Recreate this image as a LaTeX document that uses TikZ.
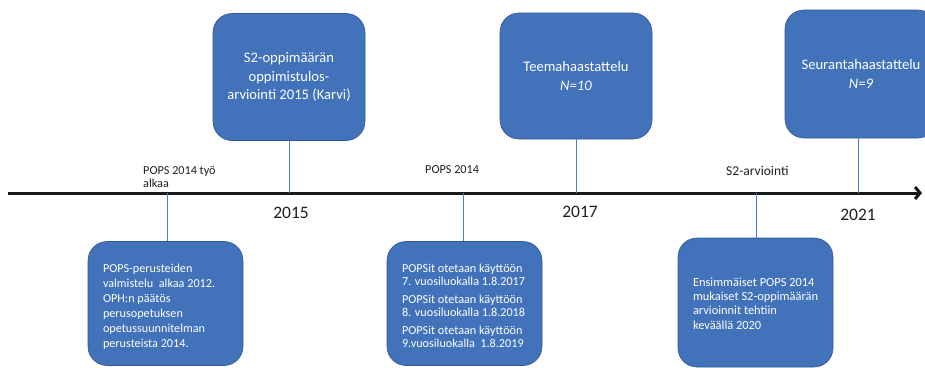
\documentclass[tikz,border=0pt]{standalone}
\usepackage{fontspec}
\setmainfont{Carlito}
\usetikzlibrary{arrows.meta}
\definecolor{boxfill}{RGB}{66,114,186}
\definecolor{boxedge}{RGB}{50,86,148}
\definecolor{linkblue}{RGB}{80,124,200}
\definecolor{labelgray}{RGB}{30,30,30}
\begin{document}
\begin{tikzpicture}[x=1pt,y=-1pt,
  event/.style={draw=boxedge,line width=0.6pt,fill=boxfill,rounded corners=19pt,
    text=white,inner sep=0pt},
  topbox/.style={event,minimum width=152pt,minimum height=127pt,align=center,
    font=\fontsize{14.6}{18.5}\selectfont},
  lowbox/.style={event,minimum width=155pt,align=left},
  link/.style={draw=linkblue,line width=0.8pt},
  note/.style={text=labelgray,font=\fontsize{12.2}{13.5}\selectfont,align=left,inner sep=0pt},
  year/.style={text=labelgray,font=\fontsize{17.5}{19}\selectfont,inner sep=0pt}]
\useasboundingbox (0,0) rectangle (925,367);
\begin{scope}
\clip (0,0) rectangle (925,367);

% main time axis
\coordinate (axisstart) at (8,193);
\coordinate (axisend) at (922,193);
\draw[line width=3pt,color=black!90,-{Straight Barb[length=5pt,width=12pt]}] (axisstart) -- (axisend);

% points on the axis
\coordinate (t1) at (167,193);
\coordinate (t2) at (289,193);
\coordinate (t3) at (463,193);
\coordinate (t4) at (576,193);
\coordinate (t5) at (756,193);
\coordinate (t6) at (858,193);

% events above the axis
\node[topbox] (karvi) at (289,77) {S2-oppimäärän\\oppimistulos-\\arviointi 2015 (Karvi)};
\node[topbox,minimum height=126pt] (teema) at (576,76) {Teemahaastattelu\\\textit{N=10}};
\node[topbox,minimum height=128pt] (seuranta) at (861,74) {Seurantahaastattelu\\\textit{N=9}};

% events below the axis
\node[lowbox,minimum height=124pt,font=\fontsize{12.2}{15}\selectfont] (perusteet) at (165.5,303.5)
  {\hspace*{15pt}\raisebox{-3pt}[\height][\depth]{\parbox{140pt}{POPS-perusteiden\\valmistelu\ \ alkaa 2012.\\OPH:n päätös\\perusopetuksen\\opetussuunnitelman\\perusteista 2014.}}};
\node[lowbox,minimum height=124pt,font=\fontsize{12.2}{13}\selectfont] (kayttoon) at (464.5,303.5)
  {\hspace*{15pt}\raisebox{-2.5pt}[\height][\depth]{\parbox{140pt}{POPSit otetaan käyttöön\\7. vuosiluokalla 1.8.2017\\[5pt]POPSit otetaan käyttöön\\8. vuosiluokalla 1.8.2018\\[5pt]POPSit otetaan käyttöön\\9.vuosiluokalla\ \ 1.8.2019}}};
\node[lowbox,minimum height=129pt,font=\fontsize{12.4}{14.2}\selectfont] (arvioinnit) at (755.5,302.5)
  {\hspace*{15pt}\raisebox{-1pt}[\height][\depth]{\parbox{140pt}{Ensimmäiset POPS 2014\\mukaiset S2-oppimäärän\\arvioinnit tehtiin\\keväällä 2020}}};

% connectors
\draw[link] (karvi.south) -- (t2);
\draw[link] (teema.south) -- (t4);
\draw[link] (seuranta.south -| t6) -- (t6);
\draw[link] (t1) -- (perusteet.north -| t1);
\draw[link] (t3) -- (kayttoon.north -| t3);
\draw[link] (t5) -- (arvioinnit.north -| t5);

% axis labels
\node[note,anchor=south west] (tyo) at (143,188) {POPS 2014 työ\\alkaa};
\node[note,anchor=west] (pops) at (425,170) {POPS 2014};
\node[note,anchor=west,font=\fontsize{13.5}{15}\selectfont] (s2arv) at (726,171) {S2-arviointi};
\node[year] (y2015) at (291,213) {2015};
\node[year] (y2017) at (580,212) {2017};
\node[year] (y2021) at (858,215) {2021};
\end{scope}
\end{tikzpicture}
\end{document}
